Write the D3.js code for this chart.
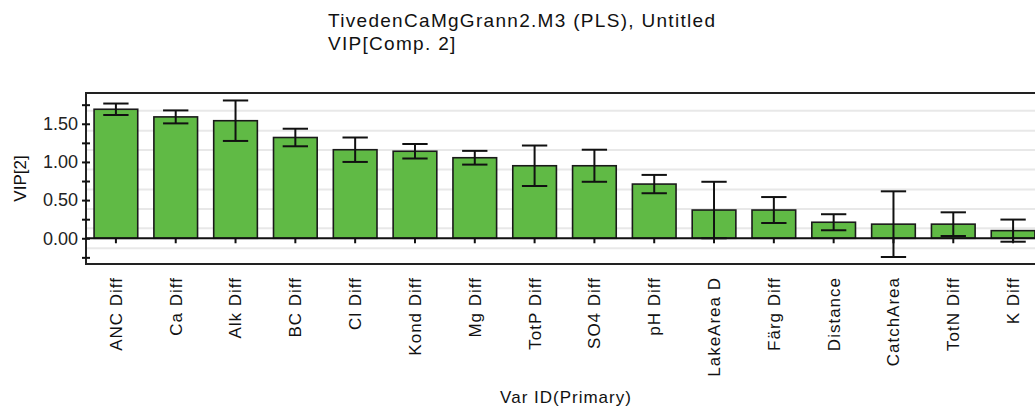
<!DOCTYPE html>
<html>
<head>
<meta charset="utf-8">
<script src="https://cdn.jsdelivr.net/npm/d3@7"></script>
<style>
  body { margin: 0; background: #fff; }
  svg { display: block; font-family: Arial, "Liberation Sans", sans-serif; }
</style>
</head>
<body>
<div id="chart"></div>
<script>
// VIP values
const variables = ["ANC Diff", "Ca Diff", "Alk Diff", "BC Diff", "Cl Diff", "Kond Diff", "Mg Diff", "TotP Diff",
  "SO4 Diff", "pH Diff", "LakeArea D", "Färg Diff", "Distance", "CatchArea", "TotN Diff", "K Diff"];
const vip = [1.69, 1.59, 1.54, 1.32, 1.16, 1.14, 1.055, 0.95, 0.95, 0.71, 0.37, 0.37, 0.21, 0.185, 0.185, 0.10];
const vipErr = [0.075, 0.085, 0.265, 0.115, 0.16, 0.095, 0.09, 0.265, 0.21, 0.12, 0.37, 0.17, 0.105, 0.43, 0.155, 0.145];
const yTicks = [-0.25, 0, 0.25, 0.5, 0.75, 1, 1.25, 1.5, 1.75];
const yLabelTicks = [0, 0.5, 1, 1.5];
const gridValues = [-0.13, 0.13, 0.385, 0.64, 0.9, 1.155, 1.41, 1.67];

const data = variables.map((v, i) => ({ name: v, value: vip[i], err: vipErr[i] }));

const width = 1035, height = 412;
const margins = { top: 93, right: -8, bottom: 148, left: 86 };

const svg = d3.select("#chart")
  .append("svg")
  .attr("width", width)
  .attr("height", height);

const xScale = d3.scaleBand()
  .domain(variables)
  .range([margins.left, width - margins.right])
  .paddingInner(0.27)
  .paddingOuter(0.135);

const yScale = d3.scaleLinear()
  .domain([-0.337, 1.903])
  .range([height - margins.bottom, margins.top]);

// Title
const title = svg.append("g")
  .attr("font-size", "19px")
  .attr("letter-spacing", "1.3px")
  .attr("fill", "#111");
title.append("text").attr("x", 328).attr("y", 27).text("TivedenCaMgGrann2.M3 (PLS), Untitled");
title.append("text").attr("x", 328).attr("y", 50).text("VIP[Comp. 2]");

// Grid lines
svg.append("g")
  .selectAll("line")
  .data(gridValues)
  .join("line")
    .attr("x1", margins.left)
    .attr("x2", width)
    .attr("y1", d => yScale(d))
    .attr("y2", d => yScale(d))
    .attr("stroke", "#e8e8e8")
    .attr("stroke-width", 2);

// Frame
svg.append("rect")
  .attr("x", margins.left)
  .attr("y", margins.top)
  .attr("width", width - margins.left + 10)
  .attr("height", height - margins.bottom - margins.top)
  .attr("fill", "none")
  .attr("stroke", "#222")
  .attr("stroke-width", 2);

// Bars
svg.append("g")
  .selectAll("rect")
  .data(data)
  .join("rect")
    .attr("x", d => xScale(d.name))
    .attr("y", d => yScale(d.value))
    .attr("width", xScale.bandwidth())
    .attr("height", d => yScale(0) - yScale(d.value))
    .attr("fill", "#60ba45")
    .attr("stroke", "#1a1a1a")
    .attr("stroke-width", 1.6);

// Zero axis with ticks below
const xAxis = d3.axisBottom(xScale).tickSize(5).tickFormat("");
svg.append("g")
    .attr("transform", `translate(0,${yScale(0)})`)
  .call(xAxis)
  .call(g => g.select(".domain").attr("d", `M${margins.left},0H${width}`).attr("stroke", "#111").attr("stroke-width", 2))
  .call(g => g.selectAll(".tick line").attr("stroke", "#111").attr("stroke-width", 2));

// Error bars
const capW = xScale.bandwidth() * 0.58;
const errs = svg.append("g")
  .attr("stroke", "#111")
  .attr("stroke-width", 2)
  .selectAll("g")
  .data(data)
  .join("g")
    .attr("transform", d => `translate(${xScale(d.name) + xScale.bandwidth() / 2},0)`);
errs.append("line")
  .attr("y1", d => yScale(d.value - d.err))
  .attr("y2", d => yScale(d.value + d.err));
errs.append("line")
  .attr("x1", -capW / 2).attr("x2", capW / 2)
  .attr("y1", d => yScale(d.value + d.err))
  .attr("y2", d => yScale(d.value + d.err));
errs.append("line")
  .attr("x1", -capW / 2).attr("x2", capW / 2)
  .attr("y1", d => yScale(d.value - d.err))
  .attr("y2", d => yScale(d.value - d.err));

// Y axis
const yAxis = d3.axisLeft(yScale)
  .tickValues(yTicks)
  .tickSize(4)
  .tickPadding(4)
  .tickFormat(d => yLabelTicks.includes(d) ? d3.format(".2f")(d) : "");
svg.append("g")
    .attr("transform", `translate(${margins.left},0)`)
  .call(yAxis)
  .call(g => g.select(".domain").remove())
  .call(g => g.selectAll(".tick line").attr("x1", 4).attr("stroke", "#111").attr("stroke-width", 2))
  .call(g => g.selectAll("text").attr("font-size", "18px").attr("fill", "#222"));

// Category labels
const labelAxis = d3.axisBottom(xScale).tickSize(0);
svg.append("g")
    .attr("transform", `translate(0,277)`)
  .call(labelAxis)
  .call(g => g.select(".domain").remove())
  .call(g => g.selectAll("text")
    .attr("transform", "rotate(-90)")
    .attr("x", 0)
    .attr("y", 0)
    .attr("dy", "0.35em")
    .style("text-anchor", "end")
    .attr("font-size", "17px")
    .attr("letter-spacing", "1px")
    .attr("fill", "#111"));

// Axis titles
svg.append("text")
  .attr("transform", `translate(20,${(margins.top + height - margins.bottom) / 2}) rotate(-90)`)
  .attr("dy", "0.35em")
  .attr("text-anchor", "middle")
  .attr("font-size", "17px")
  .attr("fill", "#111")
  .text("VIP[2]");

svg.append("text")
  .attr("x", 566)
  .attr("y", 403)
  .attr("text-anchor", "middle")
  .attr("font-size", "17px")
  .attr("letter-spacing", "1px")
  .attr("fill", "#111")
  .text("Var ID(Primary)");
</script>
</body>
</html>
